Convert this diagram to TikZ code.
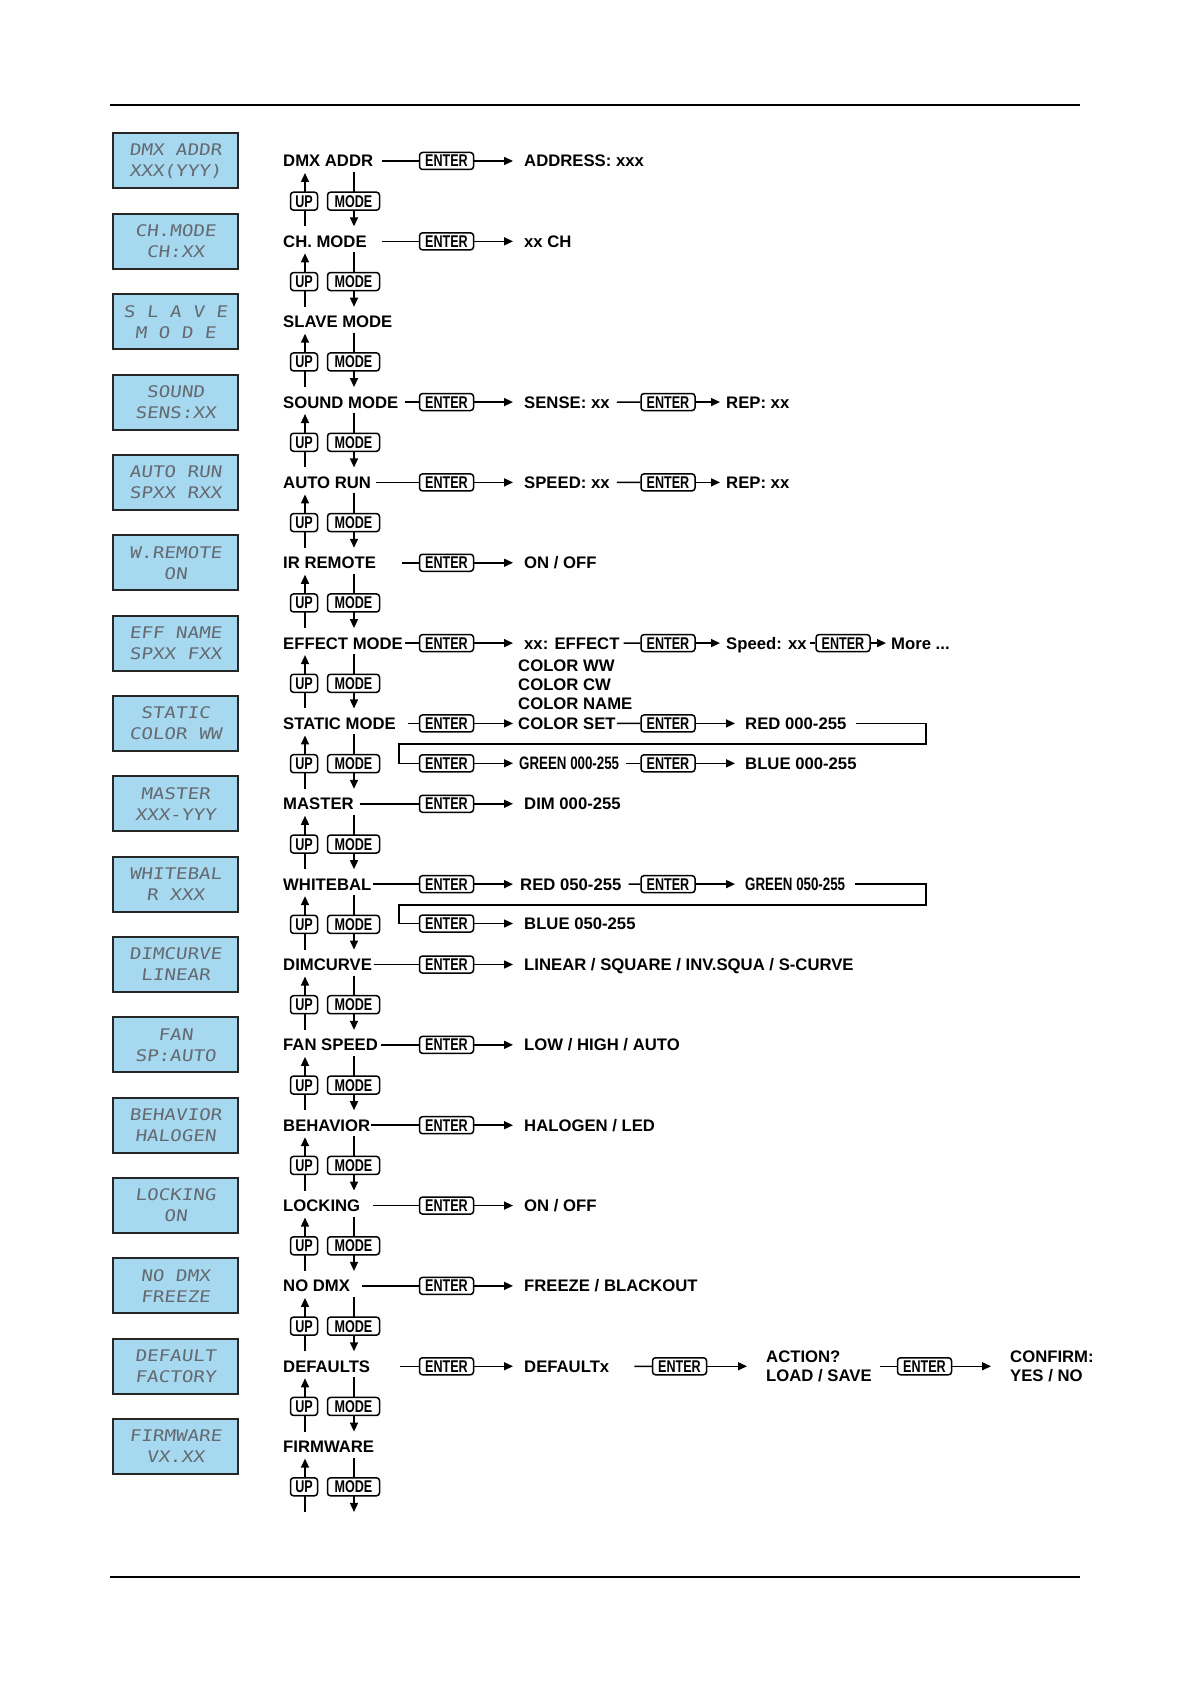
\documentclass[tikz,border=0pt]{standalone}
\usepackage{fontspec}
\setmainfont{Liberation Sans}
\newfontfamily\condfont{Liberation Sans}[FakeStretch=0.74]
\newfontfamily\lcdfont{DejaVu Sans Mono}[FakeSlant=0.12,FakeStretch=1.2]
\usetikzlibrary{arrows.meta}
\definecolor{lcdblue}{RGB}{166,216,240}
\definecolor{lcdtext}{RGB}{100,106,112}
\tikzset{
	lcd/.style={draw=black!85, line width=2pt, fill=lcdblue, minimum width=125pt, minimum height=55pt, inner sep=0pt, align=center, text=lcdtext, font=\lcdfont\fontsize{16}{21}\selectfont},
	menu/.style={anchor=west, inner sep=0pt, text height=12pt, text depth=0pt, font=\bfseries\fontsize{16.7}{19}\selectfont},
	res/.style={menu},
	rescond/.style={menu, text height=13pt, font=\condfont\bfseries\fontsize{18}{19}\selectfont},
	restwo/.style={anchor=west, inner sep=0pt, align=left, font=\bfseries\fontsize{16.7}{19}\selectfont},
	btn/.style={draw, rounded corners=3pt, line width=1.5pt, fill=white, inner sep=0pt, text height=12pt, text depth=0pt, font=\condfont\bfseries\fontsize{17}{17}\selectfont},
	enterbtn/.style={btn, minimum width=54pt, minimum height=17pt},
	upbtn/.style={btn, minimum width=27pt, minimum height=18pt},
	modebtn/.style={btn, minimum width=52pt, minimum height=18pt},
	link/.style={line width=1.5pt},
	flow/.style={link, -{Triangle[length=9pt,width=8pt]}},
	rule/.style={line width=1.2pt}
}
\begin{document}
\begin{tikzpicture}[x=1pt, y=-1pt]
	\useasboundingbox (0,0) rectangle (1192,1685);
	\draw[rule] (110,105) -- (1080,105);
	\draw[rule] (110,1577) -- (1080,1577);
	\foreach \i/\la/\lb in {0/DMX ADDR/XXX(YYY), 1/CH.MODE/CH:XX, 2/S L A V E/M O D E, 3/SOUND/SENS:XX, 4/AUTO RUN/SPXX RXX, 5/W.REMOTE/ON, 6/EFF NAME/SPXX FXX, 7/STATIC/COLOR WW, 8/MASTER/XXX-YYY, 9/WHITEBAL/R XXX, 10/DIMCURVE/LINEAR, 11/FAN/SP:AUTO, 12/BEHAVIOR/HALOGEN, 13/LOCKING/ON, 14/NO DMX/FREEZE, 15/DEFAULT/FACTORY, 16/FIRMWARE/VX.XX}
		\node[lcd] (lcd\i) at (175.5,{161+80.35*\i}) {\la\\\lb};
	\foreach \i/\name in {0/DMX ADDR, 1/CH. MODE, 2/SLAVE MODE, 3/SOUND MODE, 4/AUTO RUN, 5/IR REMOTE, 6/EFFECT MODE, 7/STATIC MODE, 8/MASTER, 9/WHITEBAL, 10/DIMCURVE, 11/FAN SPEED, 12/BEHAVIOR, 13/LOCKING, 14/NO DMX, 15/DEFAULTS, 16/FIRMWARE}
		\node[menu] (menu\i) at (283,{161+80.35*\i}) {\name};
	\foreach \i in {0,...,16} {
		\pgfmathsetmacro\ya{161+80.35*\i}
		\coordinate (upa\i) at (305,{\ya+12});
		\coordinate (upb\i) at (305,{\ya+65.35});
		\coordinate (mda\i) at (354,{\ya+11});
		\coordinate (mdb\i) at (354,{\ya+65.35});
		\draw[flow] (upb\i) -- (upa\i);
		\draw[flow] (mda\i) -- (mdb\i);
		\node[upbtn] (up\i) at (304,{\ya+40.2}) {UP};
		\node[modebtn] (mode\i) at (353.5,{\ya+40.2}) {MODE};
	}
	\foreach \i/\gap/\sh/\res in {0/9/11/ADDRESS: xxx, 1/15/11/xx CH, 3/7/11/SENSE: xx, 4/5/11/SPEED: xx, 5/26/11/{ON / OFF}, 6/2/11/xx: EFFECT, 7/12/5/COLOR SET, 8/6/11/DIM 000-255, 9/1/7/RED 050-255, 10/2/11/{LINEAR / SQUARE / INV.SQUA / S-CURVE}, 11/3/11/{LOW / HIGH / AUTO}, 12/1/11/{HALOGEN / LED}, 13/13/11/{ON / OFF}, 14/12/11/{FREEZE / BLACKOUT}, 15/30/11/DEFAULTx} {
		\pgfmathsetmacro\yr{161+80.35*\i}
		\node[enterbtn] (en\i) at (446.5,\yr) {ENTER};
		\node[res] (res\i) at ({513+\sh},\yr) {\res};
		\draw[link, shorten <=\gap] (menu\i.east) -- (en\i.west);
		\draw[flow, shorten >=\sh] (en\i.east) -- (res\i.west);
	}
	\node[enterbtn] (en3b) at (668,402.05) {ENTER};
	\node[res] (res3b) at (726,402.05) {REP: xx};
	\draw[link, shorten <=7] (res3.east) -- (en3b.west);
	\draw[flow, shorten >=6] (en3b.east) -- (res3b.west);
	\node[enterbtn] (en4b) at (668,482.4) {ENTER};
	\node[res] (res4b) at (726,482.4) {REP: xx};
	\draw[link, shorten <=7] (res4.east) -- (en4b.west);
	\draw[flow, shorten >=6] (en4b.east) -- (res4b.west);
	\node[enterbtn] (en6b) at (668,643.1) {ENTER};
	\node[res] (res6b) at (726,643.1) {Speed: xx};
	\node[enterbtn] (en6c) at (843,643.1) {ENTER};
	\node[res] (res6c) at (891,643.1) {More ...};
	\draw[link, shorten <=4] (res6.east) -- (en6b.west);
	\draw[flow, shorten >=6] (en6b.east) -- (res6b.west);
	\draw[link, shorten <=3] (res6b.east) -- (en6c.west);
	\draw[flow, shorten >=5] (en6c.east) -- (res6c.west);
	\node[res] (colww) at (518,665) {COLOR WW};
	\node[res] (colcw) at (518,684) {COLOR CW};
	\node[res] (colname) at (518,703) {COLOR NAME};
	\node[enterbtn] (en7b) at (668,723.45) {ENTER};
	\node[res] (res7b) at (745,723.45) {RED 000-255};
	\draw[link, shorten <=1] (res7.east) -- (en7b.west);
	\draw[flow, shorten >=10] (en7b.east) -- (res7b.west);
	\coordinate (turn7) at (926,744);
	\coordinate (back7) at (399,744);
	\node[enterbtn] (en7c) at (446.5,763.3) {ENTER};
	\node[rescond] (res7c) at (519,763.3) {GREEN 000-255};
	\node[enterbtn] (en7d) at (668,763.3) {ENTER};
	\node[res] (res7d) at (745,763.3) {BLUE 000-255};
	\draw[link, shorten <=9] (res7b.east) -| (turn7) -- (back7) |- (en7c.west);
	\draw[flow, shorten >=6] (en7c.east) -- (res7c.west);
	\draw[link, shorten <=7] (res7c.east) -- (en7d.west);
	\draw[flow, shorten >=10] (en7d.east) -- (res7d.west);
	\node[enterbtn] (en9b) at (668,884.15) {ENTER};
	\node[rescond] (res9b) at (745,884.15) {GREEN 050-255};
	\draw[link, shorten <=7] (res9.east) -- (en9b.west);
	\draw[flow, shorten >=10] (en9b.east) -- (res9b.west);
	\coordinate (turn9) at (926,905);
	\coordinate (back9) at (399,905);
	\node[enterbtn] (en9c) at (446.5,923.5) {ENTER};
	\node[res] (res9c) at (524,923.5) {BLUE 050-255};
	\draw[link, shorten <=10] (res9b.east) -| (turn9) -- (back9) |- (en9c.west);
	\draw[flow, shorten >=11] (en9c.east) -- (res9c.west);
	\node[enterbtn] (en15b) at (679.5,1366.25) {ENTER};
	\node[restwo] (res15b) at (766,1366.25) {ACTION?\\LOAD / SAVE};
	\node[enterbtn] (en15c) at (924.5,1366.25) {ENTER};
	\node[restwo] (res15c) at (1010,1366.25) {CONFIRM:\\YES / NO};
	\draw[link, shorten <=25] (res15.east) -- (en15b.west);
	\draw[flow, shorten >=19] (en15b.east) -- (res15b.west);
	\draw[link, shorten <=8] (res15b.east) -- (en15c.west);
	\draw[flow, shorten >=19] (en15c.east) -- (res15c.west);
\end{tikzpicture}
\end{document}
